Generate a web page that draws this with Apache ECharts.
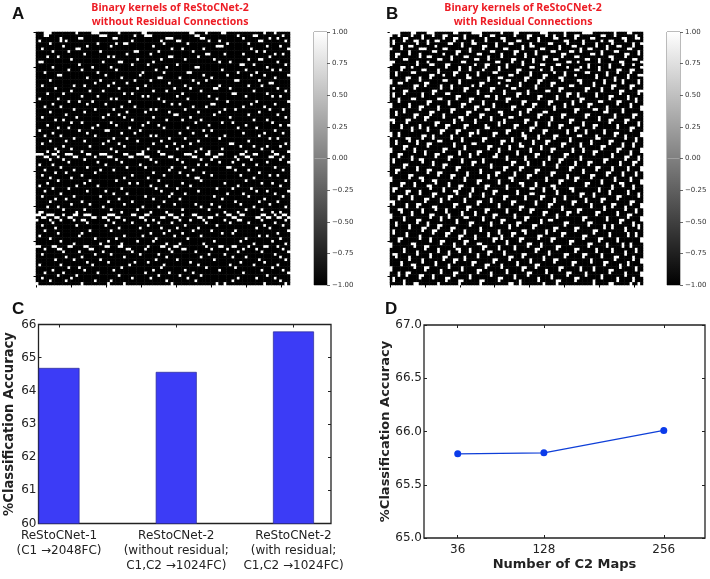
<!DOCTYPE html>
<html><head><meta charset="utf-8">
<style>html,body{margin:0;padding:0;background:#fff}#c{width:710px;height:579px}</style>
<script src="https://cdn.jsdelivr.net/npm/echarts@6/dist/echarts.min.js"></script>
</head><body><div id="c"></div>
<script>
// Binary kernels: hand-estimated from the blurred picture on a coarser 96x96 grid.
// Each row lists the columns that are white (+1); all other cells are black (-1).
const kernelsA = [
[3,4,5,15,21,22,23,31,40,41,58,59,64,70,71,86,90],
[3,4,24,25,26,37,41,42,43,60,61,76,82,83,93],
[9,16,17,29,30,49,50,51,62,63,78,88,91],
[1,9,11,36,47,53,54,65,69,84,85,94],
[5,23,30,33,34,48,57,72,80],
[10,19,28,44,68,69,70,87,92],
[2,15,16,51,55,63,81,95],
[6,12,24,37,38,46,59,83,86],
[18,34,43,64,65,71,78,90,93],
[4,8,27,29,50,51,61,88],
[13,38,47,56,67,80,84,85],
[1,2,25,31,32,44,69,73,91],
[16,36,42,53,77,78,82,94],
[6,21,28,49,60,61,87],
[12,17,30,45,70,79,89,92],
[3,23,40,48,57,58,76,83],
[8,9,26,39,63,72,81,86,95],
[19,32,46,47,54,66,90],
[5,24,37,43,59,64,75,76,84],
[22,29,34,50,61,88,89],
[2,14,18,27,41,56,69,80,85],
[7,31,38,52,58,67,68,73,91],
[13,20,25,44,49,62,82,94],
[4,10,33,36,55,74,75,87],
[17,23,40,42,53,65,79,89,92],
[1,8,28,30,46,57,68],
[12,16,21,35,48,72,83,95],
[6,19,26,51,54,66,67,81,90],
[3,9,32,37,59,64,78,86],
[14,22,29,43,45,56,71,75,88,93],
[5,18,34,41,50,61,69,84],
[11,27,31,52,53,67,80,91],
[2,15,25,33,44,58,73,94],
[7,10,36,49,55,62,82,87],
[13,17,28,42,60,70,74,89],
[4,23,30,40,46,65,79,92,95],
[8,12,21,35,48,57,76,83],
[1,16,26,27,39,63,66,90],
[6,19,32,37,54,59,78,86,93],
[3,9,22,43,45,64,71,84],
[14,29,34,50,56,69,88,91],
[5,11,18,27,38,47,61,80],
[2,25,31,44,52,58,73,74,94],
[10,20,33,49,55,77,82,87,92],
[7,13,28,42,53,62,70,85],
[4,8,17,30,40,46,60,65,79,89,95],
[0,1,2,6,7,11,12,13,19,20,24,25,26,33,34,38,39,40,47,48,56,57,58,64,65,69,70,77,78,82,83,90,91],
[3,4,8,14,15,22,27,28,35,36,41,42,50,51,59,60,67,68,75,79,80,88,89,93],
[5,10,18,30,43,53,62,66,76,81,92],
[12,23,32,45,55,69,74,87,95],
[1,6,26,39,61,64,78,83],
[9,19,34,41,51,56,72,73,90],
[3,14,24,29,50,59,75,80,93],
[7,11,22,44,54,63,84],
[2,17,36,48,57,66,77,88,91],
[5,13,33,42,60,61,82],
[8,20,30,46,62,79,94],
[4,18,35,38,55,71,85,89],
[1,15,23,43,49,58,76,92],
[6,12,32,45,53,68,74,81],
[3,19,26,47,61,83,87,95],
[9,29,34,51,56,72,78,90],
[2,14,24,41,50,67,80,93],
[7,11,31,44,54,70,86],
[5,17,27,36,48,75,84,91],
[13,20,33,52,60,66,77,88],
[4,8,25,40,46,62,69,82,94],
[10,18,28,38,55,65,79,85],
[1,2,15,32,43,49,71,76,89,92],
[0,1,4,5,6,10,14,15,18,19,20,27,28,29,36,37,41,42,50,51,55,59,60,68,72,73,77,78,85,86,90,93,94],
[2,3,7,8,12,13,21,22,25,26,30,31,39,40,47,48,52,53,61,62,65,66,74,75,83,84,87,88,91,92,95],
[0,5,9,14,17,18,27,33,41,44,54,58,63,71,76,77,85,94],
[6,19,29,36,46,51,64,73,80,90],
[2,15,26,42,56,68,86,93],
[7,31,39,47,53,61,83,88],
[3,20,28,50,59,66,75,95],
[8,17,43,48,55,70,74,91],
[1,16,33,40,52,62,84,87],
[5,22,30,45,57,79,92],
[9,27,38,44,67,77,89],
[14,24,32,49,54,63,82,94],
[0,1,6,7,12,13,18,19,26,27,31,32,42,47,48,52,53,64,69,70,74,75,80,86,87,91],
[3,8,9,20,21,34,35,41,50,55,56,66,72,78,83,93],
[10,16,25,36,51,60,76,85,95],
[2,22,28,39,46,65,71,90],
[11,17,33,49,62,74,79,92],
[7,14,24,45,53,67,84,94],
[19,27,37,42,58,77,86],
[1,9,21,35,48,61,73,82,91],
[12,16,32,47,64,75,89],
[6,18,29,44,56,69,85,93],
[3,10,23,41,50,59,78,95],
[8,15,31,46,54,62,87],
[2,13,36,43,57,76,83,90],
[5,11,22,28,49,60,74,92],
[0,17,27,33,51,68,71,86,94]
];
const kernelsB = [
[0,1,2,3,8,9,14,15,16,24,25,31,32,33,34,42,47,48,57,58,59,66,73,74,75,76,85,90,91],
[0,3,8,12,16,20,21,28,34,38,39,47,52,53,59,62,66,70,71,80,81,85,93],
[5,6,12,20,24,25,28,36,42,43,52,56,62,63,70,76,77,88,89,93,94],
[1,5,9,10,14,17,18,24,31,36,43,48,49,56,66,67,73,80,83,84,89],
[1,10,14,22,23,27,31,32,40,45,46,53,60,61,67,73,78,84,92,95],
[4,7,8,17,27,35,36,40,50,53,54,64,69,70,78,82,86,87,92],
[0,4,11,12,13,20,21,30,35,43,44,50,57,58,64,72,75,76,82,90,91],
[7,16,17,25,26,30,38,39,47,48,55,61,62,68,69,72,80,85,86,94],
[2,3,7,11,20,25,33,34,42,47,51,55,65,66,76,77,80,89,90,94],
[2,11,14,15,23,28,29,37,42,51,58,59,65,70,71,83,84,89],
[5,6,18,19,23,32,33,37,46,47,54,58,62,63,74,75,79,84,92,93],
[0,1,10,14,27,28,40,41,46,50,54,67,68,71,79,87,88,95],
[0,10,15,16,21,22,32,36,37,44,50,57,58,63,64,75,83,88,92],
[4,5,8,21,26,30,36,41,44,53,54,61,67,72,75,79,83,95],
[4,12,13,18,26,30,35,41,48,49,57,61,70,71,79,86,87,91,92],
[2,8,9,18,24,25,33,39,40,48,53,62,66,74,75,82,86,91],
[2,15,16,20,24,29,33,45,46,53,58,59,66,70,78,82,90,94,95],
[6,7,11,15,29,30,37,41,42,51,52,58,64,65,78,85,90],
[0,6,11,20,21,26,37,44,45,51,56,57,65,71,72,81,85,88,94],
[0,3,4,13,14,26,34,35,41,49,56,61,62,72,77,81,88,94],
[9,10,13,19,23,31,34,44,49,55,61,68,69,77,84,85,91,92],
[1,9,19,23,28,29,38,39,46,47,55,64,65,74,75,80,84,91],
[5,6,16,17,28,33,38,43,52,59,60,64,74,80,87,88,94,95],
[1,5,12,16,21,22,33,43,48,49,52,67,68,71,78,87,94],
[1,12,25,26,36,37,40,48,56,57,63,67,71,78,83,84,90],
[3,8,9,18,19,25,30,31,40,44,45,56,63,72,73,83,90,93],
[3,14,15,22,30,35,44,50,51,60,61,69,72,79,80,86,87,93],
[0,7,14,22,27,28,35,39,50,54,55,60,66,69,75,76,86,91],
[0,7,11,12,18,27,32,33,39,46,47,54,62,66,75,82,91,95],
[5,11,18,23,24,32,36,37,46,52,53,62,70,71,77,78,82,88,95],
[2,5,15,16,23,29,30,41,42,49,52,58,59,70,81,82,88],
[2,9,10,15,20,29,34,35,42,49,56,57,65,66,74,75,85,92,93],
[9,13,14,20,26,27,34,38,45,46,56,61,65,74,79,85,92],
[0,1,6,7,13,24,27,32,38,43,51,52,61,68,69,79,83,84,89,90],
[1,6,17,18,24,32,41,43,51,55,60,68,73,83,89,94],
[4,11,17,21,22,28,29,36,41,47,48,55,60,64,65,73,77,78,86,94],
[4,8,11,14,21,28,36,37,47,53,54,64,70,71,77,86,91,92],
[8,14,19,20,25,26,33,44,45,53,58,59,67,70,74,81,91],
[0,3,19,25,30,31,33,39,40,44,50,58,67,74,81,85,86,95],
[0,3,12,13,16,23,30,39,50,51,56,62,63,71,72,78,85,89,95],
[6,7,12,16,23,27,35,36,46,51,56,62,68,78,79,89,93],
[2,7,10,18,19,27,35,42,43,46,54,59,60,68,76,83,84,93],
[2,10,14,15,24,31,32,42,49,54,59,65,66,72,76,83,88,92],
[5,6,14,24,28,37,38,45,49,50,57,65,72,80,81,88,92],
[0,5,9,20,21,28,37,41,45,53,57,61,62,69,73,80,86,87,95],
[0,9,13,20,26,33,34,41,48,53,61,69,73,77,78,86,91,95],
[3,4,13,17,18,26,30,33,40,48,55,56,66,67,77,84,91],
[3,8,17,22,23,30,39,40,44,51,55,60,66,72,84,89,90,94],
[1,8,11,12,22,27,35,44,51,60,64,65,72,81,82,89,94],
[1,12,16,27,31,32,35,46,47,52,58,64,70,75,76,81,87,92,93],
[5,6,16,20,21,31,38,46,52,58,63,70,75,87,92],
[5,10,20,25,26,38,43,44,49,50,63,68,69,78,79,84,90,95],
[2,3,10,14,15,25,34,43,49,55,56,68,73,78,84,90,95],
[2,14,18,19,29,34,40,41,47,55,61,62,73,82,83,88,93],
[7,8,18,23,24,29,37,40,47,52,53,61,67,76,77,82,88,93],
[0,7,11,12,23,28,37,45,46,52,59,67,70,71,76,85,91],
[0,12,16,17,28,33,34,41,46,59,64,65,70,80,85,91,95],
[4,5,9,17,22,33,41,49,50,55,64,74,75,80,87,88,95],
[4,9,14,15,22,26,27,36,37,44,50,55,61,62,74,84,88,92],
[1,2,15,20,26,31,36,44,53,54,58,62,68,69,79,84,92],
[1,6,7,11,20,24,25,31,39,40,48,58,63,69,79,83,90],
[6,11,16,17,25,30,35,39,48,53,54,63,72,73,77,83,90,94],
[3,4,8,16,22,23,30,35,43,44,51,57,58,66,72,77,86,87,94],
[3,8,13,14,19,22,28,38,43,51,57,62,66,74,80,81,86],
[0,1,13,19,28,33,34,38,46,47,55,62,69,70,74,80,91,92],
[1,6,10,11,24,25,33,41,46,55,60,61,69,76,84,85,91,95],
[6,10,16,17,24,29,30,41,49,50,60,65,76,81,84,89,95],
[3,4,12,17,21,29,36,37,44,49,53,54,65,71,72,81,89,93],
[4,8,12,21,27,32,36,44,53,58,59,67,68,71,78,79,86,93],
[0,8,15,16,22,27,32,39,40,47,58,63,67,78,86,90,91],
[0,5,15,19,22,28,29,35,39,47,51,52,63,73,74,82,90,95],
[5,10,11,19,25,35,42,43,51,57,60,61,73,82,87,88,95],
[2,10,14,25,30,31,38,42,48,49,57,66,67,75,76,87,92],
[2,7,14,18,19,30,38,45,48,54,55,66,75,81,84,92,94],
[7,12,13,18,23,24,34,45,54,62,63,70,71,81,84,89,94],
[1,12,16,17,23,28,34,41,50,51,59,62,70,77,78,89],
[1,6,16,21,22,28,37,41,46,47,51,59,65,66,77,83,90,93],
[6,11,21,26,27,32,37,42,46,56,57,65,73,74,83,90,93],
[3,4,11,15,26,32,39,40,42,49,50,56,61,62,73,79,80,86,95],
[3,15,19,20,28,29,39,44,49,61,68,69,79,86,95],
[0,8,9,19,24,28,33,34,44,52,53,57,68,75,76,82,88,91],
[0,9,13,14,24,35,36,41,47,52,57,63,64,75,82,88,91],
[5,13,18,25,26,30,35,41,47,55,56,63,70,71,78,84,93],
[5,10,18,22,26,30,37,38,43,55,60,70,78,84,89,93],
[1,2,10,15,22,33,37,43,50,51,60,66,67,73,74,80,89],
[2,7,15,20,21,28,33,45,46,50,58,66,73,80,85,86,92],
[7,12,20,24,25,28,39,40,45,53,58,62,63,76,85,92,95],
[4,12,17,24,31,32,39,48,53,62,69,70,76,81,82,90,95],
[4,8,9,17,22,31,36,37,42,48,55,56,69,81,87,90],
[0,9,13,14,22,27,36,42,50,51,55,64,65,72,77,87,93],
[0,13,19,27,33,34,44,50,59,64,72,77,83,84,93],
[3,6,7,19,24,25,33,38,44,52,53,59,67,68,74,83,89,95],
[3,6,11,12,16,24,30,38,47,52,61,67,74,80,89,95],
[1,11,16,21,22,30,41,42,47,56,61,70,71,80,86,92],
[1,5,21,26,27,34,35,41,49,56,63,64,70,77,86,92],
[5,9,10,18,26,34,45,46,49,58,63,77,83,84,91,94]
];
const accCategories = ["ReStoCNet-1\n(C1 \u21922048FC)","ReStoCNet-2\n(without residual;\nC1,C2 \u21921024FC)","ReStoCNet-2\n(with residual;\nC1,C2 \u21921024FC)"];
const accValues = [64.69, 64.57, 65.79];
const mapCounts = [36, 128, 256];
const mapAccuracy = [65.79, 65.80, 66.01];
const kernelTicks = [0,20,40,60,80,100,120,140];

const N = 96, idx = Array.from({length:N},(_,i)=>i);
const cells = m => { const out=[]; m.forEach((r,y)=>{ const w=new Set(r); idx.forEach(x=>out.push([x,y,w.has(x)?1:-1])); }); return out; };

const ink='#222', sans='"DejaVu Sans"', noLine={show:false,onZero:false};
const grids=[
 {left:36,top:32,width:254,height:253},
 {left:314,top:32,width:13,height:253,show:true,borderColor:'#777',borderWidth:1,backgroundColor:'transparent'},
 {left:390,top:32,width:253,height:253},
 {left:667,top:32,width:13,height:253,show:true,borderColor:'#777',borderWidth:1,backgroundColor:'transparent'},
 {left:38.5,top:324.5,width:292.5,height:199,show:true,borderColor:ink,borderWidth:1.3,backgroundColor:'transparent'},
 {left:424,top:325,width:281,height:213,show:true,borderColor:ink,borderWidth:1.3,backgroundColor:'transparent'}
];
const xs=[],ys=[],series=[];
const addX=o=>{xs.push(o);return xs.length-1}, addY=o=>{ys.push(o);return ys.length-1};
const tick=(vals,inside,len,col)=>({show:true,inside,length:len,lineStyle:{color:col||ink,width:1},customValues:vals});

function kernelPanel(g,m,cb){
  const xi=addX({type:'category',gridIndex:g,data:idx,show:false});
  const yi=addY({type:'category',gridIndex:g,data:idx,inverse:true,show:false});
  addX({type:'value',gridIndex:g,min:0,max:145,position:'bottom',axisLine:noLine,axisLabel:{show:false},splitLine:{show:false},axisTick:tick(kernelTicks,false,2.5,'#000')});
  addY({type:'value',gridIndex:g,min:0,max:145,inverse:true,position:'left',axisLine:noLine,axisLabel:{show:false},splitLine:{show:false},axisTick:tick(kernelTicks,false,2.5,'#000')});
  series.push({type:'heatmap',xAxisIndex:xi,yAxisIndex:yi,data:cells(m),progressive:0,animation:false,emphasis:{disabled:true}});
  const cx=addX({type:'category',gridIndex:cb,data:['c'],show:false});
  const cy=addY({type:'value',gridIndex:cb,min:-1,max:1,interval:0.25,position:'right',axisLine:noLine,splitLine:{show:false},
    axisTick:{show:true,length:3,lineStyle:{color:'#444',width:.8}},
    axisLabel:{fontFamily:sans,fontSize:7,color:'#333',margin:5,formatter:v=>(v<0?'\u2212':'')+Math.abs(v).toFixed(2)}});
  const grad=(a,b)=>new echarts.graphic.LinearGradient(0,0,0,1,[{offset:0,color:a},{offset:1,color:b}]);
  series.push({type:'bar',xAxisIndex:cx,yAxisIndex:cy,data:[1],barWidth:'100%',barGap:'-100%',itemStyle:{color:grad('#ffffff','#808080')},silent:true,animation:false});
  series.push({type:'bar',xAxisIndex:cx,yAxisIndex:cy,data:[-1],barWidth:'100%',barGap:'-100%',itemStyle:{color:grad('#808080','#000000')},silent:true,animation:false});
}
kernelPanel(0,kernelsA,1);
kernelPanel(2,kernelsB,3);

const plainMirror=(g,isX,pos,vals,min,max)=>{
  const o={type:'value',gridIndex:g,min,max,position:pos,axisLine:noLine,axisLabel:{show:false},splitLine:{show:false},axisTick:tick(vals,true,3)};
  return isX?addX(o):addY(o);
};
// Panel C
const cX=addX({type:'value',gridIndex:4,min:-0.175,max:2.32,position:'bottom',splitLine:{show:false},axisLine:noLine,axisTick:tick([0,1,2],true,3),
  axisLabel:{customValues:[0,1,2],formatter:v=>accCategories[Math.round(v)],fontFamily:sans,fontSize:12,lineHeight:15,color:ink,margin:5,align:'center',verticalAlign:'top'}});
const cY=addY({type:'value',gridIndex:4,min:60,max:66,interval:1,position:'left',splitLine:{show:false},axisLine:noLine,axisTick:{show:true,inside:true,length:3,lineStyle:{color:ink}},
  axisLabel:{fontFamily:sans,fontSize:12,color:ink,margin:2},
  name:'%Classification Accuracy',nameLocation:'middle',nameGap:22,nameMoveOverlap:false,nameTextStyle:{fontFamily:sans,fontSize:13.2,fontWeight:'bold',color:ink}});
plainMirror(4,true,'top',[0,1,2],-0.175,2.32);
plainMirror(4,false,'right',[60,61,62,63,64,65,66],60,66);
series.push({type:'bar',xAxisIndex:cX,yAxisIndex:cY,data:accValues.map((v,i)=>[i,v]),barWidth:41,itemStyle:{color:'#3c3cf6',borderColor:'#2a2a90',borderWidth:.7},silent:true,animation:false});
// Panel D
const dX=addX({type:'value',gridIndex:5,min:0,max:300,position:'bottom',splitLine:{show:false},axisLine:noLine,axisTick:tick(mapCounts,true,3),
  axisLabel:{customValues:mapCounts,fontFamily:sans,fontSize:12,color:ink,margin:6},
  name:'Number of C2 Maps',nameLocation:'middle',nameGap:20,nameMoveOverlap:false,nameTextStyle:{fontFamily:sans,fontSize:13,fontWeight:'bold',color:ink}});
const dY=addY({type:'value',gridIndex:5,min:65,max:67,interval:0.5,position:'left',splitLine:{show:false},axisLine:noLine,axisTick:{show:true,inside:true,length:3,lineStyle:{color:ink}},
  axisLabel:{fontFamily:sans,fontSize:12,color:ink,margin:2,formatter:v=>v.toFixed(1)},
  name:'%Classification Accuracy',nameLocation:'middle',nameGap:32,nameMoveOverlap:false,nameTextStyle:{fontFamily:sans,fontSize:13,fontWeight:'bold',color:ink}});
plainMirror(5,true,'top',mapCounts,0,300);
plainMirror(5,false,'right',[65,65.5,66,66.5,67],65,67);
series.push({type:'line',xAxisIndex:dX,yAxisIndex:dY,data:mapCounts.map((c,i)=>[c,mapAccuracy[i]]),symbol:'circle',symbolSize:7,lineStyle:{color:'#0f3fd8',width:1.3},itemStyle:{color:'#0b3bea'},silent:true,animation:false});

const red='#ed1c24', head='"Open Sans"';
const tt=(t,x,y)=>({text:t,left:x,top:y,textAlign:'center',textStyle:{fontFamily:head,fontSize:10.5,fontWeight:'bold',color:red,lineHeight:14}});
const letter=(t,x,y)=>({text:t,left:x,top:y,textStyle:{fontFamily:'"Liberation Sans"',fontSize:17,fontWeight:'bold',color:'#111'}});
const chart=echarts.init(document.getElementById('c'),null,{renderer:'canvas'});
chart.setOption({animation:false,backgroundColor:'#fff',
  title:[tt('Binary kernels of ReStoCNet-2\nwithout Residual Connections',165,-4),tt('Binary kernels of ReStoCNet-2\nwith Residual Connections',518,-4),
    letter('A',7,1),letter('B',381,1),letter('C',7,296),letter('D',380,296)],
  visualMap:{show:false,type:'continuous',min:-1,max:1,seriesIndex:[0,3],inRange:{color:['#000000','#ffffff']}},
  grid:grids,xAxis:xs,yAxis:ys,series});
</script></body></html>
